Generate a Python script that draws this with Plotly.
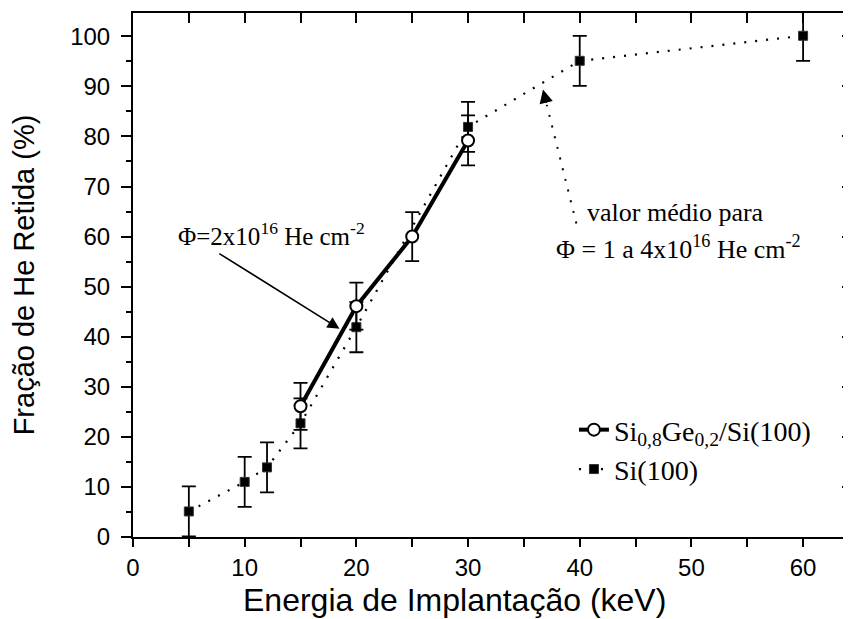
import plotly.graph_objects as go

# Data
si_x = [5, 10, 12, 15, 20, 30, 40, 60]
si_y = [5.1, 11.0, 13.9, 22.7, 41.9, 81.9, 95.1, 100.1]
si_err = [5, 5, 5, 5, 5, 5, 5, 5]

sige_x = [15, 20, 25, 30]
sige_y = [26.1, 46.1, 60.0, 79.2]
sige_err = [4.7, 4.7, 4.9, 5.0]

x_range = [0, 64.2]
y_range = [0, 104.65]

x_title = "Energia de Implantação (keV)"
y_title = "Fração de He Retida (%)"

SERIF = "Liberation Serif, Times New Roman, serif"
SANS = "Liberation Sans, Arial, sans-serif"

fig = go.Figure()

fig.add_trace(go.Scatter(
    x=si_x, y=si_y, name="Si(100)", mode="lines+markers",
    line=dict(color="black", width=2.2, dash="2px,9px"),
    marker=dict(symbol="square", size=9, color="black", line=dict(color="#333", width=1)),
    error_y=dict(type="data", array=si_err, color="black", thickness=1.8, width=7),
    legendrank=2,
))
fig.add_trace(go.Scatter(
    x=sige_x, y=sige_y, name="Si<sub>0,8</sub>Ge<sub>0,2</sub>/Si(100)", mode="lines+markers",
    line=dict(color="black", width=4),
    marker=dict(symbol="circle", size=12, color="white", line=dict(color="black", width=2)),
    error_y=dict(type="data", array=sige_err, color="black", thickness=1.8, width=7),
    legendrank=1,
))
# invisible trace for mirrored axes
fig.add_trace(go.Scatter(x=[None], y=[None], xaxis="x2", yaxis="y2", showlegend=False, hoverinfo="skip"))

axis_common = dict(showgrid=False, zeroline=False, showline=True, linecolor="black", linewidth=2,
                   tickcolor="black", tickwidth=2, automargin=False)

fig.update_layout(
    width=843, height=611,
    paper_bgcolor="white", plot_bgcolor="white",
    margin=dict(l=125, r=1, t=5, b=82, autoexpand=False),
    showlegend=True,
    legend=dict(x=0.615, y=0.252, xanchor="left", yanchor="top",
                font=dict(family=SERIF, size=28, color="black"),
                bgcolor="rgba(0,0,0,0)", tracegroupgap=0, itemwidth=30),
    xaxis=dict(range=x_range, tick0=0, dtick=10, ticks="outside", ticklen=8,
               minor=dict(dtick=5, ticks="outside", ticklen=8, tickwidth=2, tickcolor="black"),
               tickfont=dict(family=SANS, size=24, color="black"),
               **axis_common),
    yaxis=dict(range=y_range, tick0=0, dtick=10, ticks="outside", ticklen=10, ticklabelstandoff=6,
               minor=dict(dtick=5, ticks="outside", ticklen=5, tickwidth=2, tickcolor="black"),
               tickfont=dict(family=SANS, size=24, color="black"),
               title=dict(text=y_title, font=dict(family=SANS, size=29, color="black"), standoff=27),
               **axis_common),
    xaxis2=dict(range=x_range, overlaying="x", anchor="y", side="top", tick0=0, dtick=5,
                ticks="inside", ticklen=10, showticklabels=False, **axis_common),
    yaxis2=dict(range=y_range, overlaying="y", anchor="x", side="right", tick0=0, dtick=10,
                ticks="inside", ticklen=8, showticklabels=False,
                minor=dict(dtick=5, ticks="inside", ticklen=4, tickwidth=2, tickcolor="black"),
                **axis_common),
)

# X axis title (placed as in the reference, left of the plot centre)
fig.add_annotation(x=0.449, y=-0.12, xref="paper", yref="paper", showarrow=False,
                   xanchor="center", yanchor="middle", text=x_title,
                   font=dict(family=SANS, size=32, color="black"))

# Annotations
fig.add_annotation(x=12.36, y=60.6, xref="x", yref="y", showarrow=False,
                   text="Φ=2x10<sup>16</sup> He cm<sup>-2</sup>",
                   font=dict(family=SERIF, size=25, color="black"))
fig.add_annotation(x=18.49, y=41.6, ax=7.59, ay=56.8, xref="x", yref="y", axref="x", ayref="y",
                   text="", showarrow=True, arrowhead=2, arrowsize=1.6, arrowwidth=1.5, arrowcolor="black")

fig.add_shape(type="line", x0=39.70, y0=62.6, x1=37.05, y1=86.3, xref="x", yref="y",
              line=dict(color="black", width=2, dash="2px,9px"))
fig.add_annotation(x=36.71, y=89.35, ax=3.6, ay=14.6, xref="x", yref="y",
                   text="", showarrow=True, arrowhead=2, arrowsize=1.8, arrowwidth=1.5, arrowcolor="black")
fig.add_annotation(x=48.6, y=64.8, xref="x", yref="y", showarrow=False,
                   text="valor médio para", font=dict(family=SERIF, size=26, color="black"))
fig.add_annotation(x=48.85, y=57.8, xref="x", yref="y", showarrow=False,
                   text="Φ = 1 a 4x10<sup>16</sup> He cm<sup>-2</sup>",
                   font=dict(family=SERIF, size=26, color="black"))

fig.write_html("out.html")
